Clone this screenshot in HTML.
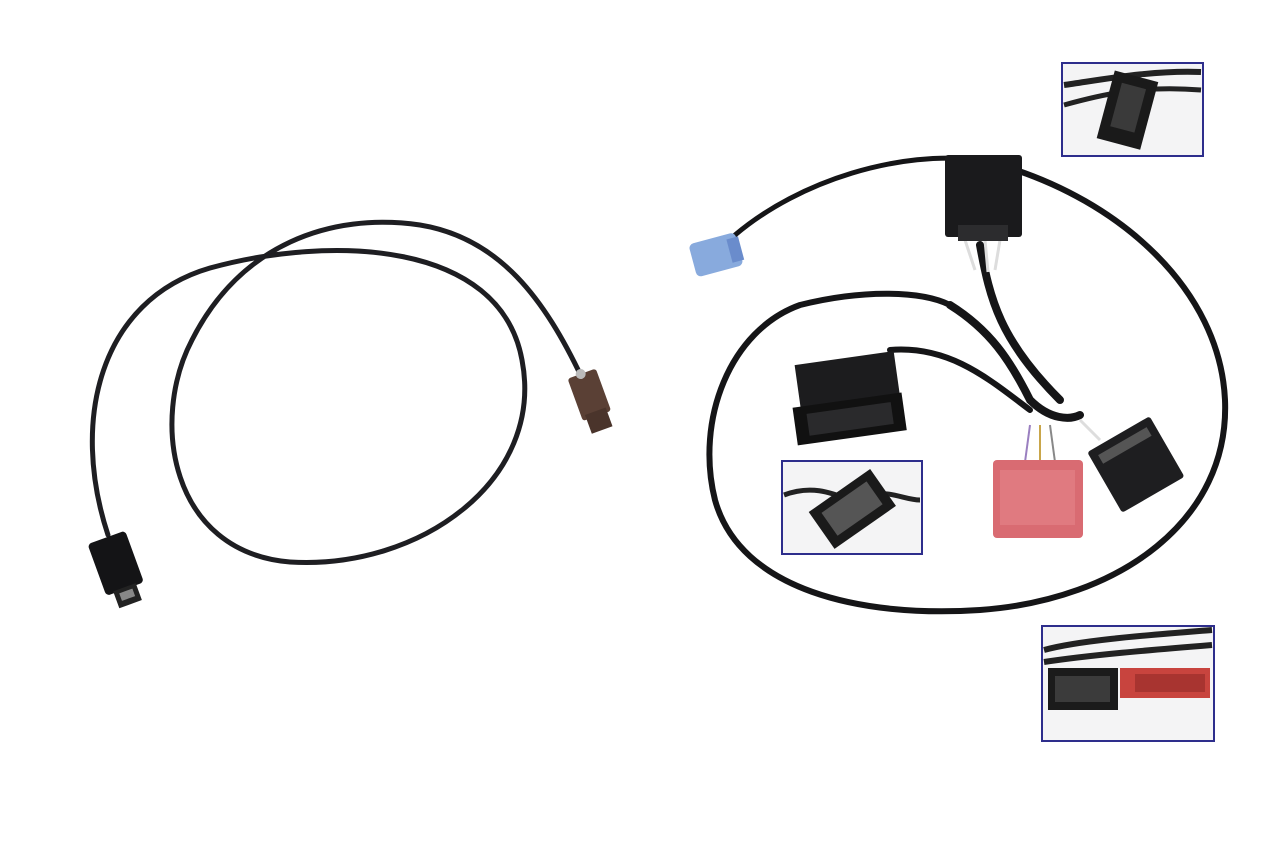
<!DOCTYPE html>
<html><head><meta charset="utf-8"><style>
html,body{margin:0;padding:0;background:#fff;width:1280px;height:853px;overflow:hidden}
</style></head><body>
<svg width="1280" height="853" viewBox="0 0 1280 853" xmlns="http://www.w3.org/2000/svg">
<rect width="1280" height="853" fill="#fff"/>
<!-- left cable -->
<path d="M108,535 C70,420 100,300 210,268 C330,235 500,240 522,360 C545,480 420,570 290,562 C170,552 150,420 192,340 C240,245 330,212 420,225 C500,238 545,300 582,378" fill="none" stroke="#1e1e22" stroke-width="5" stroke-linecap="round"/>
<g transform="rotate(-20 120 575)">
<rect x="100" y="535" width="40" height="55" rx="4" fill="#141416"/>
<rect x="108" y="588" width="24" height="18" fill="#222"/>
<rect x="113" y="592" width="14" height="8" fill="#888"/>
</g>
<g transform="rotate(-20 592 405)">
<rect x="578" y="372" width="30" height="45" rx="3" fill="#5a4035"/>
<rect x="582" y="412" width="22" height="20" fill="#4a342b"/>
<circle cx="592" cy="372" r="5" fill="#bbb"/>
</g>
<!-- right harness -->
<g fill="none" stroke="#151517" stroke-linecap="round">
<path d="M1000,165 C1120,200 1220,290 1225,400 C1230,520 1120,600 980,610 C860,618 740,590 715,500 C695,420 730,330 800,305 C860,290 920,290 950,305" stroke-width="6"/>
<path d="M980,160 C900,150 800,180 735,235" stroke-width="5"/>
<path d="M950,305 C990,330 1010,360 1030,400 C1050,420 1070,420 1080,415" stroke-width="8"/>
<path d="M980,245 C990,300 1000,340 1060,400" stroke-width="8"/>
<path d="M890,350 C950,345 990,380 1030,410" stroke-width="6"/>
</g>
<g stroke="#ddd" stroke-width="3" fill="none">
<path d="M965,240 L975,270"/><path d="M985,240 L988,272"/><path d="M1000,240 L995,270"/>
<path d="M1080,420 L1100,440"/>
</g>
<g stroke-width="2" fill="none">
<path d="M1030,425 L1025,462" stroke="#9a7fc0"/><path d="M1040,425 L1040,462" stroke="#c9a64a"/><path d="M1050,425 L1055,462" stroke="#888"/>
</g>
<!-- blue connector -->
<g transform="rotate(-15 715 255)">
<rect x="692" y="238" width="48" height="34" rx="5" fill="#88aadd"/>
<rect x="730" y="243" width="12" height="24" fill="#6a8ccc"/>
</g>
<!-- top black connector -->
<rect x="945" y="155" width="77" height="82" rx="3" fill="#1a1a1c"/>
<rect x="958" y="225" width="50" height="16" fill="#2c2c2e"/>
<!-- big black connector -->
<g transform="rotate(-8 848 400)">
<rect x="800" y="358" width="100" height="45" fill="#1c1c1e"/>
<rect x="792" y="400" width="110" height="38" fill="#111"/>
<rect x="805" y="408" width="85" height="22" fill="#2a2a2c"/>
</g>
<!-- red connector -->
<rect x="993" y="460" width="90" height="78" rx="4" fill="#d96b72"/>
<rect x="1000" y="470" width="75" height="55" fill="#e07a80"/>
<!-- small black connector -->
<g transform="rotate(-30 1135 465)">
<rect x="1100" y="430" width="72" height="70" rx="3" fill="#1e1e20"/>
<rect x="1108" y="438" width="56" height="10" fill="#555"/>
</g>
<!-- insets -->
<rect x="1062" y="63" width="141" height="93" fill="#f4f4f5" stroke="#2e2e8c" stroke-width="2"/>
<path d="M1064,85 C1100,80 1150,70 1201,72" stroke="#222" stroke-width="6" fill="none"/>
<path d="M1064,105 C1100,95 1140,85 1201,90" stroke="#222" stroke-width="5" fill="none"/>
<g transform="rotate(15 1127 110)"><rect x="1105" y="75" width="45" height="70" fill="#1a1a1a"/><rect x="1115" y="85" width="25" height="45" fill="#3a3a3a"/></g>
<rect x="782" y="461" width="140" height="93" fill="#f4f4f5" stroke="#2e2e8c" stroke-width="2"/>
<path d="M784,495 C810,485 830,492 850,500 M870,495 C890,490 905,500 920,500" stroke="#222" stroke-width="5" fill="none"/>
<g transform="rotate(-35 850 510)"><rect x="815" y="488" width="75" height="45" fill="#1a1a1a"/><rect x="825" y="496" width="55" height="28" fill="#555"/></g>
<rect x="1042" y="626" width="172" height="115" fill="#f4f4f5" stroke="#2e2e8c" stroke-width="2"/>
<path d="M1044,650 C1080,640 1150,635 1212,630 M1044,662 C1090,655 1150,650 1212,645" stroke="#222" stroke-width="6" fill="none"/>
<rect x="1048" y="668" width="70" height="42" fill="#1b1b1b"/>
<rect x="1055" y="676" width="55" height="26" fill="#3b3b3b"/>
<rect x="1120" y="668" width="90" height="30" fill="#c8443e"/>
<rect x="1135" y="674" width="70" height="18" fill="#a83430"/>
</svg>
</body></html>
